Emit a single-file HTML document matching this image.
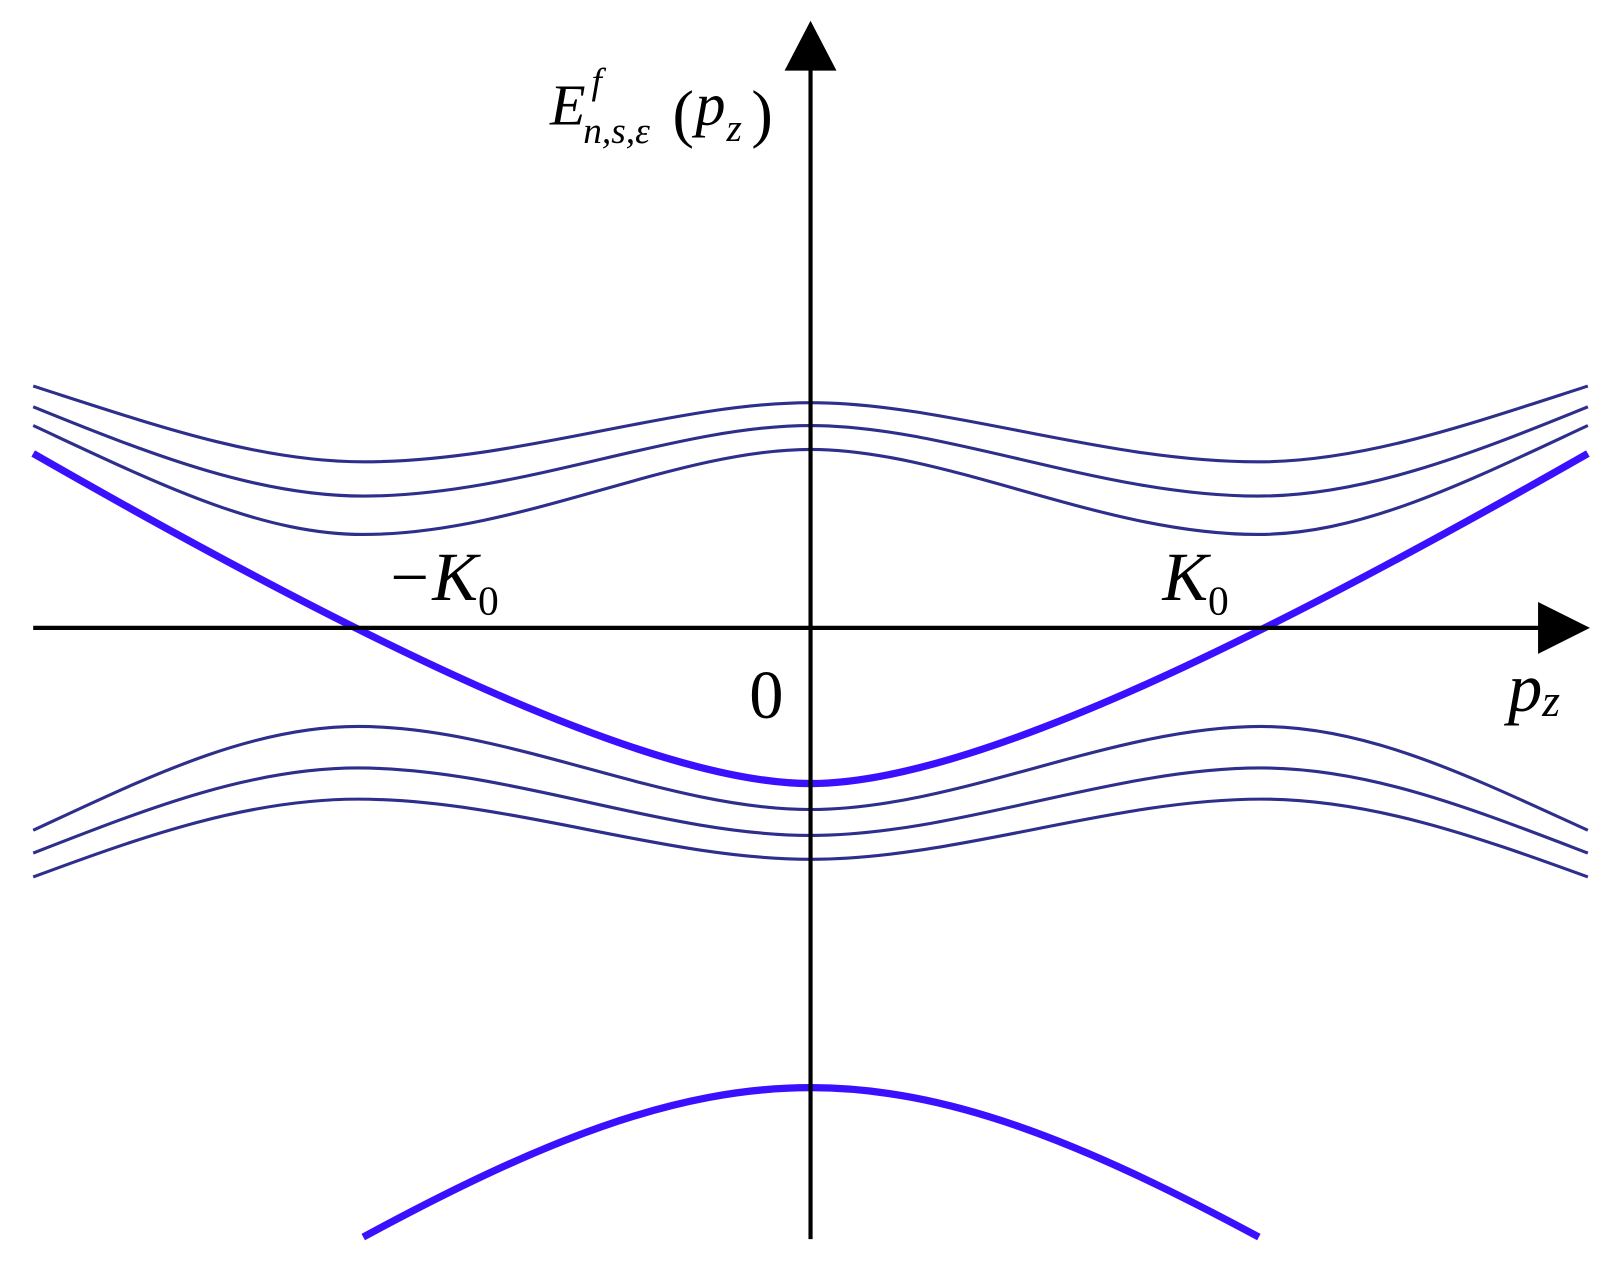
<!DOCTYPE html>
<html><head><style>html,body{margin:0;padding:0;background:#fff}svg{display:block}</style></head>
<body>
<svg width="1619" height="1273" viewBox="0 0 1560 1226.6" xmlns="http://www.w3.org/2000/svg">
<g fill="none" stroke="#2e2e8c" stroke-width="3">
<path d="M32,372 C150,410 250,445 350,445 C500,445 650,388 781,388 C912,388 1062,445 1212,445 C1312,445 1412,410 1530,372"/>
<path d="M32,392 C150,440 250,478 350,478 C500,478 650,410 781,410 C912,410 1062,478 1212,478 C1312,478 1412,440 1530,392"/>
<path d="M32,410 C150,465 250,515 350,515 C500,515 650,433 781,433 C912,433 1062,515 1212,515 C1312,515 1412,465 1530,410"/>
<path d="M32,800 C140,750 240,700 345,700 C490,700 640,780 781,780 C922,780 1072,700 1215,700 C1320,700 1420,750 1530,800"/>
<path d="M32,822 C140,780 240,740 345,740 C490,740 640,805 781,805 C922,805 1072,740 1215,740 C1320,740 1420,780 1530,822"/>
<path d="M32,845 C140,805 240,770 345,770 C490,770 640,828 781,828 C922,828 1072,770 1215,770 C1320,770 1420,805 1530,845"/>
</g>
<g fill="none" stroke="#3a10ff" stroke-width="7">
<path d="M32,437 C360,625 630,755 781,755 C932,755 1200,625 1530,437"/>
<path d="M350,1192 C520,1100 650,1048 781,1048 C912,1048 1042,1100 1213,1192"/>
</g>
<g stroke="#000" stroke-width="4">
<line x1="32" y1="605" x2="1490" y2="605"/>
<line x1="781" y1="1194" x2="781" y2="62"/>
</g>
<polygon points="1482,580 1532,605 1482,630" fill="#000"/>
<polygon points="756,68 781,20 806,68" fill="#000"/>
<g font-family="Liberation Serif, serif" font-size="66" fill="#000">
<text x="372" y="578" font-style="italic">−K<tspan font-style="normal" font-size="40" dy="14">0</tspan></text>
<text x="1120" y="578" font-style="italic">K<tspan font-style="normal" font-size="40" dy="14">0</tspan></text>
<text x="722" y="692">0</text>
<text x="1453" y="685" font-style="italic">p<tspan font-size="44" dy="5">z</tspan></text>
<text x="530" y="120" font-style="italic" font-size="56">E</text>
<text x="570" y="90" font-style="italic" font-size="36">f</text>
<text x="562" y="138" font-style="italic" font-size="36">n,s,ε</text>
<text x="648" y="130" font-size="62">(</text>
<text x="670" y="120" font-style="italic" font-size="58">p</text>
<text x="700" y="136" font-style="italic" font-size="38">z</text>
<text x="724" y="130" font-size="62">)</text>
</g>
</svg>
</body></html>
